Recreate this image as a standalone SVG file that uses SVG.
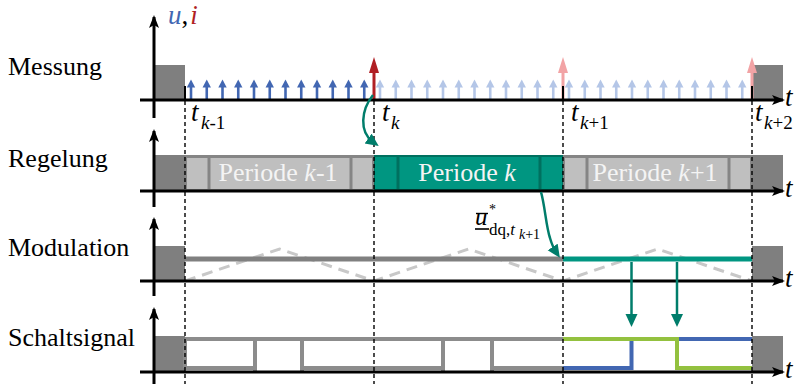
<svg xmlns="http://www.w3.org/2000/svg" width="795" height="384" viewBox="0 0 795 384">
  <defs>
    <style>
      .lbl { font-family: "Liberation Serif", "Times New Roman", serif; font-size: 26px; fill: #000; }
      .var { font-family: "Liberation Serif", "Times New Roman", serif; font-style: italic; fill: #000; }
      .up { font-style: normal; }
      .it { font-style: italic; }
      .per { font-family: "Liberation Serif", "Times New Roman", serif; font-size: 26px; fill: #f4f4f4; text-anchor: middle; }
      .axis { stroke: #000; stroke-width: 3; fill: none; }
      .box { fill: #7f7f7f; }
      .grid { stroke: #000; stroke-width: 1.4; stroke-dasharray: 4 3; fill: none; }
      .tick { stroke: #000; stroke-width: 2; }
      .conn { stroke: #007d6b; stroke-width: 2.5; fill: none; }
      .sig { fill: none; stroke-width: 4; stroke-linejoin: miter; }
    </style>
    <marker id="ax" markerUnits="userSpaceOnUse" markerWidth="14" markerHeight="12" refX="11" refY="5" orient="auto">
      <path d="M0,0 L13,5 L0,10 L3,5 z" fill="#000"/>
    </marker>
    <marker id="tl" markerUnits="userSpaceOnUse" markerWidth="14" markerHeight="14" refX="6" refY="6" orient="auto">
      <path d="M0,0 L13,6 L0,12 z" fill="#007d6b"/>
    </marker>
    <g id="sa">
      <line x1="0" y1="0" x2="0" y2="-13" stroke="currentColor" stroke-width="2.6"/>
      <path d="M-4.2,-12.5 L0,-20.5 L4.2,-12.5 z" fill="currentColor"/>
    </g>
    <g id="ta">
      <line x1="0" y1="0" x2="0" y2="-30" stroke="currentColor" stroke-width="3"/>
      <path d="M-5,-27 L0,-43 L5,-27 z" fill="currentColor"/>
    </g>
  </defs>

  <!-- row labels -->
  <g id="labels">
    <text class="lbl" x="8" y="75">Messung</text>
    <text class="lbl" x="8" y="167">Regelung</text>
    <text class="lbl" x="8" y="256">Modulation</text>
    <text class="lbl" x="8" y="346">Schaltsignal</text>
  </g>

  <!-- Messung: sampling instants -->
  <g id="messung">
    <rect class="box" x="153" y="65" width="32" height="35"/>
    <rect class="box" x="752" y="65" width="31" height="35"/>
    <g color="#4267b2">
      <use href="#sa" x="191" y="100"/><use href="#sa" x="206.75" y="100"/><use href="#sa" x="222.5" y="100"/>
      <use href="#sa" x="238.25" y="100"/><use href="#sa" x="254" y="100"/><use href="#sa" x="269.75" y="100"/>
      <use href="#sa" x="285.5" y="100"/><use href="#sa" x="301.25" y="100"/><use href="#sa" x="317" y="100"/>
      <use href="#sa" x="332.75" y="100"/><use href="#sa" x="348.5" y="100"/><use href="#sa" x="364.25" y="100"/>
    </g>
    <g color="#b4c6e7">
      <use href="#sa" x="380" y="100"/><use href="#sa" x="395.75" y="100"/><use href="#sa" x="411.5" y="100"/>
      <use href="#sa" x="427.25" y="100"/><use href="#sa" x="443" y="100"/><use href="#sa" x="458.75" y="100"/>
      <use href="#sa" x="474.5" y="100"/><use href="#sa" x="490.25" y="100"/><use href="#sa" x="506" y="100"/>
      <use href="#sa" x="521.75" y="100"/><use href="#sa" x="537.5" y="100"/><use href="#sa" x="553.25" y="100"/>
      <use href="#sa" x="569" y="100"/><use href="#sa" x="584.75" y="100"/><use href="#sa" x="600.5" y="100"/>
      <use href="#sa" x="616.25" y="100"/><use href="#sa" x="632" y="100"/><use href="#sa" x="647.75" y="100"/>
      <use href="#sa" x="663.5" y="100"/><use href="#sa" x="679.25" y="100"/><use href="#sa" x="695" y="100"/>
      <use href="#sa" x="710.75" y="100"/><use href="#sa" x="726.5" y="100"/><use href="#sa" x="742.25" y="100"/>
    </g>
    <g color="#f2a3a5">
      <use href="#ta" x="563" y="100"/>
      <use href="#ta" x="752" y="100"/>
    </g>
    <line class="tick" x1="185" y1="86" x2="185" y2="100"/>
    <line class="tick" x1="563" y1="86" x2="563" y2="100"/>
    <line class="tick" x1="752" y1="86" x2="752" y2="100"/>
    <use href="#ta" x="374" y="100" color="#b01f24"/>
    <text class="var" x="168" y="24" font-size="27"><tspan fill="#4267b2">u</tspan><tspan class="up">,</tspan><tspan fill="#b01f24" dx="2">i</tspan></text>
    <text class="var" x="191" y="121" font-size="27">t</text>
    <text class="var" x="201" y="129" font-size="19">k<tspan class="up">-1</tspan></text>
    <text class="var" x="382" y="121" font-size="27">t</text>
    <text class="var" x="391" y="129" font-size="19">k</text>
    <text class="var" x="571" y="121" font-size="27">t</text>
    <text class="var" x="580" y="129" font-size="19">k<tspan class="up">+1</tspan></text>
    <text class="var" x="755" y="121" font-size="27">t</text>
    <text class="var" x="764" y="129" font-size="19">k<tspan class="up">+2</tspan></text>
  </g>

  <!-- Regelung: control periods -->
  <g id="regelung">
    <rect class="box" x="153" y="155" width="32" height="36"/>
    <rect class="box" x="752" y="155" width="31" height="36"/>
    <rect x="185" y="155" width="189" height="36" fill="#858585"/>
    <rect x="187" y="158" width="20.5" height="31" fill="#bfbfbf"/>
    <rect x="210.5" y="158" width="139" height="31" fill="#bfbfbf"/>
    <rect x="352.5" y="158" width="19.5" height="31" fill="#bfbfbf"/>
    <rect x="374" y="155" width="189" height="36" fill="#00705f"/>
    <rect x="375" y="157" width="21.5" height="32" fill="#009681"/>
    <rect x="399.5" y="157" width="139" height="32" fill="#009681"/>
    <rect x="541.5" y="157" width="20.5" height="32" fill="#009681"/>
    <rect x="563" y="155" width="189" height="36" fill="#858585"/>
    <rect x="565" y="158" width="20.5" height="31" fill="#bfbfbf"/>
    <rect x="588.5" y="158" width="139" height="31" fill="#bfbfbf"/>
    <rect x="730.5" y="158" width="19.5" height="31" fill="#bfbfbf"/>
    <text class="per" x="278" y="181">Periode <tspan class="it">k</tspan>-1</text>
    <text class="per" x="467" y="181">Periode <tspan class="it">k</tspan></text>
    <text class="per" x="655" y="181">Periode <tspan class="it">k</tspan>+1</text>
  </g>

  <!-- Modulation: carrier and reference -->
  <g id="modulation">
    <rect class="box" x="153" y="246" width="32" height="35"/>
    <rect class="box" x="752" y="246" width="31" height="35"/>
    <path d="M185,281 L279.5,249 L374,281 L468.5,249 L563,281 L657.5,249 L752,281" fill="none" stroke="#c8c8c8" stroke-width="3" stroke-dasharray="11 7"/>
    <line x1="185" y1="259" x2="563" y2="259" stroke="#808080" stroke-width="5"/>
    <line x1="563" y1="259" x2="752" y2="259" stroke="#009681" stroke-width="5"/>
    <text class="var" x="475" y="225" font-size="25">u</text>
    <line x1="476" y1="213.5" x2="488" y2="213.5" stroke="#000" stroke-width="1.4"/>
    <line x1="475" y1="229" x2="489" y2="229" stroke="#000" stroke-width="1.6"/>
    <text class="var up" x="489" y="214" font-size="14">*</text>
    <text class="var up" x="489" y="235" font-size="17">dq,<tspan class="it">t</tspan></text>
    <text class="var" x="519" y="239" font-size="14">k<tspan class="up">+1</tspan></text>
  </g>

  <!-- Schaltsignal: gate signals -->
  <g id="schaltsignal">
    <rect class="box" x="153" y="336" width="32" height="36"/>
    <rect class="box" x="752" y="336" width="31" height="36"/>
    <path class="sig" stroke="#8c8c8c" d="M185,339 H563 M185,368 H255 M302,368 H443 M492,368 H563 M185,339 V368 M255,339 V371 M302,339 V371 M443,339 V371 M492,339 V371"/>
    <path class="sig" stroke="#4267b2" d="M563,368 H631.5 V339 H752"/>
    <path class="sig" stroke="#93c13f" d="M563,339 H677 V368 H752"/>
  </g>

  <!-- time axes -->
  <g id="axes">
    <line class="axis" x1="154" y1="118" x2="154" y2="17" marker-end="url(#ax)"/>
    <line class="axis" x1="140" y1="100" x2="783" y2="100" marker-end="url(#ax)"/>
    <line class="axis" x1="154" y1="207" x2="154" y2="131" marker-end="url(#ax)"/>
    <line class="axis" x1="140" y1="191" x2="783" y2="191" marker-end="url(#ax)"/>
    <line class="axis" x1="154" y1="296" x2="154" y2="219" marker-end="url(#ax)"/>
    <line class="axis" x1="140" y1="281" x2="783" y2="281" marker-end="url(#ax)"/>
    <line class="axis" x1="154" y1="384" x2="154" y2="309" marker-end="url(#ax)"/>
    <line class="axis" x1="140" y1="372" x2="783" y2="372" marker-end="url(#ax)"/>
    <text class="var" x="785" y="106" font-size="27">t</text>
    <text class="var" x="785" y="197" font-size="27">t</text>
    <text class="var" x="785" y="287" font-size="27">t</text>
    <text class="var" x="785" y="378" font-size="27">t</text>
  </g>

  <!-- period boundaries -->
  <g id="grid">
    <line class="grid" x1="185" y1="101" x2="185" y2="384"/>
    <line class="grid" x1="374" y1="101" x2="374" y2="384"/>
    <line class="grid" x1="563" y1="101" x2="563" y2="384"/>
    <line class="grid" x1="752" y1="101" x2="752" y2="384"/>
  </g>

  <!-- data flow -->
  <g id="connectors">
    <path class="conn" d="M373,95 C361,110 359,132 373,142" marker-end="url(#tl)"/>
    <path class="conn" d="M541,192 C545,206 546,226 550,238 C552,245 554,249 556,252" marker-end="url(#tl)"/>
    <line class="conn" x1="631.5" y1="262" x2="631.5" y2="320" marker-end="url(#tl)"/>
    <line class="conn" x1="677" y1="262" x2="677" y2="320" marker-end="url(#tl)"/>
  </g>
</svg>
